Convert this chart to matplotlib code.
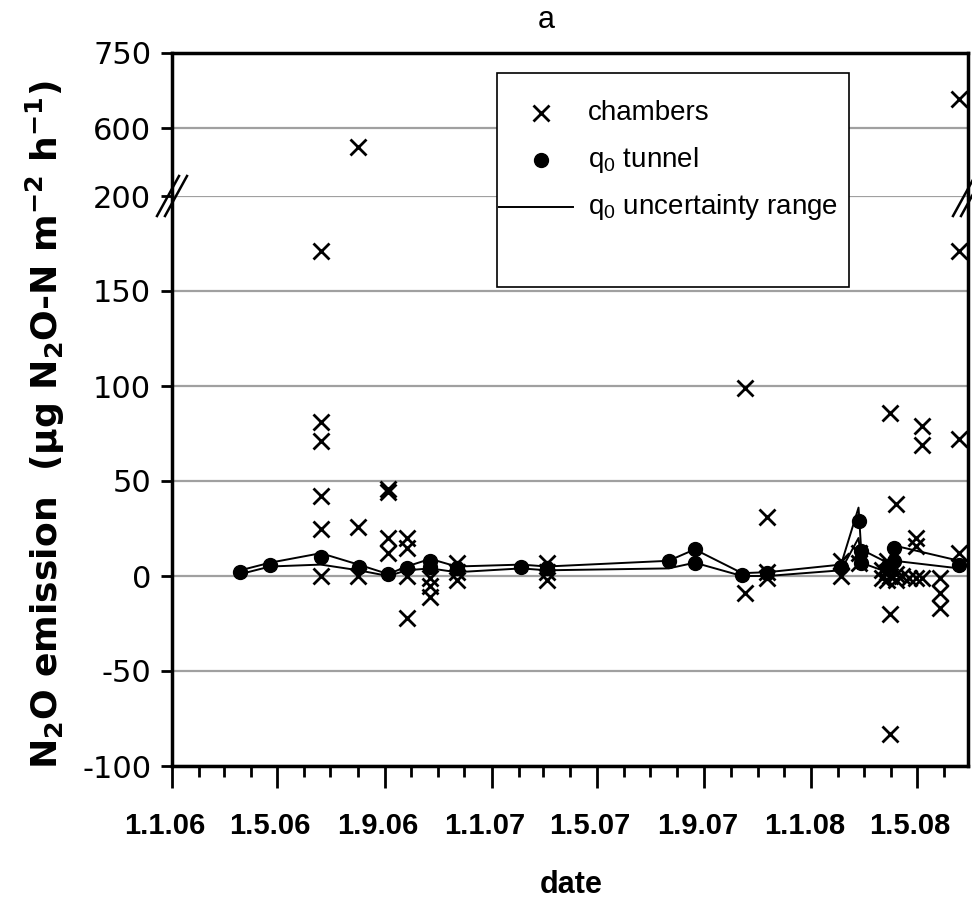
import datetime as dt
import matplotlib
matplotlib.use("Agg")
import matplotlib.pyplot as plt
import matplotlib.dates as mdates
import matplotlib.transforms as mtransforms
from matplotlib.ticker import FuncFormatter
from matplotlib.patches import Rectangle

plt.rcParams['font.family'] = ['Liberation Sans', 'DejaVu Sans']
plt.rcParams['mathtext.default'] = 'regular'
plt.rcParams['axes.unicode_minus'] = False

D = dt.date

# chamber fluxes (µg N2O-N m-2 h-1)
chamber_dates = (
    [D(2006, 6, 20)] * 6 + [D(2006, 8, 1)] * 3 + [D(2006, 9, 5)] * 4 +
    [D(2006, 9, 26)] * 4 + [D(2006, 10, 23)] * 3 + [D(2006, 11, 22)] * 3 +
    [D(2007, 3, 5)] * 3 + [D(2007, 10, 17)] * 2 + [D(2007, 11, 12)] * 3 +
    [D(2008, 2, 4)] * 2 + [D(2008, 2, 25)] * 2 + [D(2008, 3, 22)] * 2 +
    [D(2008, 3, 28)] * 3 + [D(2008, 3, 31)] * 5 + [D(2008, 4, 7)] * 3 +
    [D(2008, 4, 14)] + [D(2008, 4, 22)] + [D(2008, 4, 30)] * 3 +
    [D(2008, 5, 7)] * 3 + [D(2008, 5, 27)] * 3 + [D(2008, 6, 18)] * 4
)
chamber_vals = [
    171, 81, 71, 42, 25, 0,
    562, 26, 0,
    46, 44, 20, 12,
    20, 15, 0, -22,
    -1, -5, -11,
    7, 2, -2,
    7, 2, -2,
    99, -9,
    31, 2, -1,
    8, 0,
    12, 7,
    3, -1,
    8, 2, -2,
    86, 5, 0, -20, -83,
    38, 1, -2,
    0,
    -1,
    20, 16, -1,
    79, 69, -1,
    -1, -9, -17,
    658, 171, 72, 12,
]

# q0 tunnel values
tunnel_dates = [D(2006, 3, 20), D(2006, 4, 23), D(2006, 6, 20), D(2006, 8, 2),
                D(2006, 9, 5), D(2006, 9, 26), D(2006, 10, 23), D(2006, 10, 23),
                D(2006, 11, 22), D(2007, 2, 4), D(2007, 3, 5), D(2007, 7, 22),
                D(2007, 8, 21), D(2007, 8, 21), D(2007, 10, 14), D(2007, 11, 12),
                D(2008, 2, 4), D(2008, 2, 24), D(2008, 2, 27), D(2008, 2, 27),
                D(2008, 3, 28), D(2008, 4, 5), D(2008, 4, 5), D(2008, 6, 18)]
tunnel_q0 = [2, 6, 10, 5, 1, 4, 8, 5, 4, 5, 4, 8, 14, 7, 0.5, 1.5,
             5, 29, 13, 7, 5, 15, 8, 6]

# q0 uncertainty range
range_dates = [D(2006, 3, 20), D(2006, 4, 23), D(2006, 6, 20), D(2006, 8, 2),
               D(2006, 9, 5), D(2006, 9, 26), D(2006, 10, 23), D(2006, 11, 22),
               D(2007, 2, 4), D(2007, 3, 5), D(2007, 7, 22), D(2007, 8, 21),
               D(2007, 10, 14), D(2007, 11, 12), D(2008, 2, 4), D(2008, 2, 24),
               D(2008, 2, 27), D(2008, 3, 28), D(2008, 4, 5), D(2008, 6, 18)]
range_lo = [1, 5, 6, 3, 0, 3, 4, 2, 4, 3, 4, 7, 0, 0, 3, 20, 7, 2, 8, 4]
range_hi = [3, 7, 12, 6, 1, 5, 9, 5, 6, 5, 8, 14, 1.5, 2, 6, 36, 14, 7, 16, 8]

upper_ticks = [600, 750]
lower_ticks = [-100, -50, 0, 50, 100, 150, 200]
legend_labels = ['chambers', 'q$_0$ tunnel', 'q$_0$ uncertainty range']

W, H = 972, 906
fig = plt.figure(figsize=(W / 100, H / 100), dpi=100)


def px_box(x0, y0, x1, y1):
    return [x0 / W, 1 - y1 / H, (x1 - x0) / W, (y1 - y0) / H]


def fx(x):
    return x / W


def fy(y):
    return 1 - y / H


ax_top = fig.add_axes(px_box(172, 53, 968, 196))
ax = fig.add_axes(px_box(172, 196, 968, 766), sharex=ax_top)

for a in (ax_top, ax):
    a.plot(range_dates, range_hi, color='black', lw=1.4, zorder=3)
    a.plot(range_dates, range_lo, color='black', lw=1.4, zorder=3)
    a.plot(chamber_dates, chamber_vals, ls='none', marker='x', ms=11, mew=2,
           color='black', zorder=4)
    a.plot(tunnel_dates, tunnel_q0, ls='none', marker='o', ms=10,
           color='black', zorder=5)
    a.grid(axis='y', color='#a0a0a0', lw=1.6)
    a.set_axisbelow(True)
    for s in a.spines.values():
        s.set_linewidth(2.5)
    a.tick_params(axis='y', direction='out', length=8, width=2,
                  labelsize=22, pad=7, labelfontfamily='DejaVu Sans')

ax_top.set_ylim(464, 750)
ax_top.set_yticks(upper_ticks)
ax_top.spines['bottom'].set_visible(False)
ax_top.tick_params(axis='x', which='both', bottom=False, labelbottom=False)

ax.set_ylim(-100, 200)
ax.set_yticks(lower_ticks)
ax.spines['top'].set_visible(False)

ax.set_xlim(D(2006, 1, 1), D(2008, 6, 28))
ax.xaxis.set_major_locator(mdates.MonthLocator(bymonth=[1, 5, 9]))
ax.xaxis.set_minor_locator(mdates.MonthLocator())
ax.xaxis.set_major_formatter(FuncFormatter(
    lambda v, pos: (lambda d: f"{d.day}.{d.month}.{d.year % 100:02d}")(mdates.num2date(v))))
ax.tick_params(axis='x', which='major', direction='out', length=16, width=2,
               labelsize=21, pad=17)
ax.tick_params(axis='x', which='minor', direction='out', length=8, width=2)
plt.setp(ax.get_xticklabels(), fontweight='bold')

# axis break marks
for xc in (172, 968):
    for dx in (-4, 4):
        x = xc + dx
        fig.add_artist(plt.Line2D([fx(x - 11), fx(x + 11)], [fy(216), fy(176)],
                                  color='black', lw=1.8))

fig.text(fx(546), fy(20), 'a', ha='center', va='center', fontsize=22)
fig.text(fx(571), fy(885), 'date', ha='center', va='center',
         fontsize=22, fontweight='bold')
fig.text(fx(45), fy(425),
         'N$_2$O emission  (µg N$_2$O-N m$^{-2}$ h$^{-1}$)',
         rotation=90, ha='center', va='center', fontsize=26,
         fontweight='bold', family='DejaVu Sans')

# legend box
fig.add_artist(Rectangle((fx(497), fy(287)), fx(849) - fx(497), fy(73) - fy(287),
                         transform=fig.transFigure, facecolor='white',
                         edgecolor='black', lw=1.2, zorder=10))
row_y = [113, 160, 207]
fig.add_artist(plt.Line2D([fx(541)], [fy(row_y[0])], ls='none', marker='x',
                          ms=11, mew=2, color='black', zorder=11))
fig.add_artist(plt.Line2D([fx(541)], [fy(row_y[1])], ls='none', marker='o',
                          ms=10, color='black', zorder=11))
fig.add_artist(plt.Line2D([fx(499), fx(573)], [fy(row_y[2])] * 2,
                          color='black', lw=1.4, zorder=11))
for yy, lab in zip(row_y, legend_labels):
    fig.text(fx(588), fy(yy), lab, ha='left', va='center', fontsize=20, zorder=12)

# date labels sit slightly left of their ticks
fig.canvas.draw()
shift = mtransforms.ScaledTranslation(-7 / 100, 0, fig.dpi_scale_trans)
for lab in ax.get_xticklabels():
    lab.set_transform(lab.get_transform() + shift)

fig.savefig('out.png', dpi=100)
